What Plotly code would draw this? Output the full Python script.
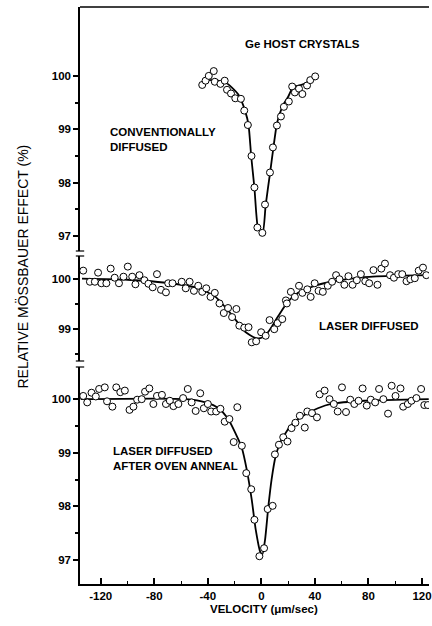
import plotly.graph_objects as go

# ---------------- data ----------------
x_ticks = [-120, -80, -40, 0, 40, 80, 120]
x_ticklabels = ["-120", "-80", "-40", "0", "40", "80", "120"]

# Top panel: conventionally diffused
top_v = [-44.2, -41.7, -39.3, -35.6, -34.8, -30.6, -27.4, -25.7, -22.7, -19.5, -15.3, -12.8,
         -10.1, -7.4, -5.2, -3.0, 0.7, 2.7, 6.4, 8.6, 11.6, 14.6, 16.8, 20.5, 23.0, 25.0,
         28.1, 30.6, 34.1, 36.5, 40.2]
top_y = [99.83, 99.91, 100.00, 100.09, 99.89, 99.85, 99.91, 99.74, 99.67, 99.58, 99.57, 99.35,
         99.08, 98.50, 97.91, 97.16, 97.06, 97.59, 98.19, 98.66, 99.07, 99.24, 99.42, 99.52,
         99.80, 99.69, 99.76, 99.66, 99.82, 99.92, 99.99]
top_fit_v = [-43, -36, -30, -27, -22, -17, -12, -9.6, -7.6, -5.2, -2.7, -1, 1, 3.2, 6.4, 8.9,
             11.4, 13.8, 17, 20, 23.7, 29.9, 34.8, 39.8]
top_fit_y = [99.93, 99.92, 99.90, 99.88, 99.78, 99.64, 99.33, 99.08, 98.49, 97.90, 97.17, 97.10,
             97.07, 97.58, 98.17, 98.64, 99.08, 99.30, 99.49, 99.61, 99.79, 99.83, 99.89, 100.0]

# Middle panel: laser diffused
mid_v = [-133.1, -128.1, -124.4, -122.0, -119.5, -115.8, -112.6, -109.6, -106.4, -103.0, -99.8,
         -96.5, -94.1, -91.1, -87.4, -84.4, -81.2, -78.0, -75.0, -71.3, -69.6, -66.4, -59.5,
         -56.5, -53.6, -50.4, -47.2, -44.2, -41.2, -38.0, -34.8, -31.3, -28.1, -24.9, -21.9,
         -18.7, -16.5, -12.8, -9.6, -7.2, -3.9, -0.2, 3.2, 6.1, 9.6, 12.1, 15.6, 18.3, 19.0,
         22.0, 25.0, 28.1, 30.6, 34.3, 36.8, 39.8, 42.7, 45.9, 49.6, 52.8, 55.8, 58.3, 62.0,
         65.0, 68.1, 71.3, 74.3, 77.6, 80.5, 83.7, 86.7, 89.6, 92.3, 96.1, 99.0, 102.2, 105.2,
         108.4, 111.3, 114.6, 117.5, 120.7, 123.2]
mid_y = [100.16, 99.94, 99.94, 100.12, 99.91, 99.91, 100.20, 100.02, 99.91, 100.04, 100.24,
         100.04, 99.89, 100.07, 99.97, 99.90, 99.83, 100.09, 99.78, 99.73, 99.91, 99.91, 99.94,
         99.81, 99.94, 99.76, 99.86, 99.74, 99.81, 99.64, 99.72, 99.51, 99.32, 99.42, 99.24,
         99.40, 99.07, 99.03, 99.04, 98.74, 98.76, 98.94, 98.87, 99.18, 99.00, 99.12, 99.20,
         99.57, 99.51, 99.74, 99.64, 99.86, 99.72, 99.79, 99.64, 99.91, 99.76, 99.74, 99.86,
         99.94, 100.07, 99.99, 99.88, 100.05, 99.88, 99.97, 100.09, 99.95, 99.91, 100.17, 99.88,
         100.20, 100.30, 100.07, 100.02, 100.09, 100.09, 99.95, 99.99, 100.01, 100.16, 100.22,
         100.07]
mid_fit_v = [-134, -100, -71.3, -46.7, -34.3, -22, -12.1, -4.7, 0.2, 5.2, 12.6, 20, 27.4, 39.8,
             52.1, 76.8, 101.5, 125]
mid_fit_y = [100.0, 99.98, 99.92, 99.81, 99.64, 99.28, 98.95, 98.83, 98.83, 98.95, 99.26, 99.55,
             99.72, 99.86, 99.94, 100.03, 100.06, 100.07]

# Bottom panel: laser diffused after oven anneal
bot_v = [-133.1, -130.1, -126.9, -123.7, -121.2, -117.0, -115.3, -111.3, -108.4, -105.4, -102.0,
         -98.5, -95.6, -92.8, -89.4, -86.9, -83.7, -80.7, -78.0, -74.3, -71.3, -68.4, -65.7,
         -62.0, -58.5, -55.0, -52.1, -49.1, -45.7, -43.0, -40.0, -37.5, -33.8, -30.6, -27.4,
         -23.9, -20.7, -18.0, -14.6, -11.3, -7.6, -5.2, -1.5, 2.0, 4.7, 8.4, 10.1, 13.1, 16.3,
         19.5, 22.5, 25.4, 28.7, 32.4, 34.3, 37.8, 41.5, 43.5, 47.2, 50.9, 54.1, 57.0, 60.2,
         63.2, 66.4, 69.4, 72.6, 75.6, 78.7, 81.7, 85.0, 87.9, 91.1, 94.6, 97.3, 100.2, 103.9,
         105.9, 109.4, 112.1, 115.8, 119.3, 121.7, 124.4]
bot_y = [100.06, 99.94, 100.12, 100.05, 100.19, 100.22, 99.96, 99.86, 100.22, 100.13, 100.16,
         99.80, 99.86, 99.99, 100.00, 100.14, 100.20, 99.91, 100.06, 100.08, 99.91, 99.97, 99.87,
         99.91, 100.02, 100.19, 99.94, 99.78, 100.11, 99.83, 99.91, 99.77, 99.77, 99.82, 99.58,
         99.63, 99.20, 99.85, 99.13, 98.62, 98.32, 97.75, 97.07, 97.22, 97.95, 98.01, 98.97,
         99.15, 99.29, 99.21, 99.46, 99.56, 99.69, 99.47, 99.77, 99.74, 99.66, 100.09, 100.16,
         100.00, 99.91, 99.77, 100.22, 99.76, 99.99, 99.91, 99.97, 100.20, 99.88, 99.99, 99.94,
         100.19, 100.00, 99.73, 100.25, 100.06, 100.20, 99.86, 99.91, 99.97, 100.02, 100.19,
         99.89, 99.89]
bot_fit_v = [-135, -56.5, -41.7, -31.9, -24.4, -19.5, -14.6, -10.9, -7.2, -4.2, -1, 0.7, 2.7,
             5.2, 7.6, 10.6, 15, 22.4, 32.4, 42.2, 52.1, 76.8, 125]
bot_fit_y = [100.0, 100.0, 99.94, 99.83, 99.61, 99.37, 99.09, 98.68, 98.12, 97.56, 97.16, 97.10,
             97.37, 98.0, 98.5, 98.93, 99.24, 99.52, 99.71, 99.83, 99.91, 99.97, 100.0]

# ---------------- figure ----------------
FONT_B = "Liberation Sans, Arial, sans-serif"
FONT_R = "Liberation Sans, Arial, sans-serif"

fig = go.Figure()

panels = [
    (top_fit_v, top_fit_y, top_v, top_y, "x3", "y3"),
    (mid_fit_v, mid_fit_y, mid_v, mid_y, "x2", "y2"),
    (bot_fit_v, bot_fit_y, bot_v, bot_y, "x", "y"),
]
for fv, fy, pv, py, xa, ya in panels:
    fig.add_trace(go.Scatter(x=fv, y=fy, mode="lines", xaxis=xa, yaxis=ya,
                             line=dict(color="black", width=1.8, shape="spline", smoothing=0.6),
                             hoverinfo="skip"))
    fig.add_trace(go.Scatter(x=pv, y=py, mode="markers", xaxis=xa, yaxis=ya,
                             marker=dict(symbol="circle", size=7, color="white",
                                         line=dict(color="black", width=1))))

H = 577.0
def frac(py):
    return (584 - py) / H

tick_font = dict(family=FONT_B, size=11.5, color="black", weight="bold")
common_y = dict(showline=True, linecolor="black", linewidth=1.5, ticks="outside", ticklen=5,
                tickwidth=1.5, tickcolor="black", showgrid=False, zeroline=False,
                tickfont=tick_font)

x_range = [-135.5, 125.2]
fig.update_layout(
    width=432, height=626,
    margin=dict(l=80, r=0, t=7, b=42),
    plot_bgcolor="white", paper_bgcolor="white",
    showlegend=False,
    xaxis=dict(domain=[0, 1], range=x_range, anchor="y", showline=True, linecolor="black",
               linewidth=1.5, ticks="inside", ticklen=6, tickwidth=1.5, tickcolor="black",
               tickvals=x_ticks, ticktext=x_ticklabels, showgrid=False, zeroline=False,
               ticklabeloverflow="allow",
               minor=dict(tickvals=[-100, -60, -20, 20, 60, 100], ticks="inside", ticklen=3,
                          tickwidth=1, tickcolor="black"),
               tickfont=tick_font),
    xaxis2=dict(matches="x", anchor="y2", visible=False, range=x_range),
    xaxis3=dict(matches="x", anchor="y3", visible=False, range=x_range),
    yaxis=dict(domain=[0, frac(367)], range=[96.552, 100.6], anchor="x",
               tickvals=[97, 98, 99, 100],
               minor=dict(tickvals=[97.5, 98.5, 99.5], ticks="outside", ticklen=3,
                          tickcolor="black"), **common_y),
    yaxis2=dict(domain=[frac(361), frac(256)], range=[98.37, 100.45], anchor="x2",
                tickvals=[99, 100],
                minor=dict(tickvals=[98.5, 99.5], ticks="outside", ticklen=3,
                           tickcolor="black"), **common_y),
    yaxis3=dict(domain=[frac(251), 1], range=[96.72, 101.29], anchor="x3",
                tickvals=[97, 98, 99, 100],
                minor=dict(tickvals=[97.5, 98.5, 99.5], ticks="outside", ticklen=3,
                           tickcolor="black"), **common_y),
)

# top frame line
fig.add_shape(type="line", xref="paper", yref="paper", x0=0, x1=1, y0=1, y1=1,
              line=dict(color="black", width=1.5))
# axis break markers
for yb in [frac(251), frac(256), frac(361), frac(367)]:
    fig.add_shape(type="line", xref="paper", yref="paper", x0=-0.012, x1=0.012, y0=yb, y1=yb,
                  line=dict(color="black", width=1.2))

lab = dict(family=FONT_B, size=11.5, color="black", weight="bold")
fig.add_annotation(x=30.4, y=100.6, xref="x3", yref="y3", text="Ge HOST CRYSTALS",
                   showarrow=False, font=lab, xanchor="center", yanchor="middle")
fig.add_annotation(x=-114.5, y=98.8, xref="x3", yref="y3", text="CONVENTIONALLY<br>DIFFUSED",
                   showarrow=False, font=lab, xanchor="left", yanchor="middle", align="left")
fig.add_annotation(x=80.7, y=99.07, xref="x2", yref="y2", text="LASER DIFFUSED",
                   showarrow=False, font=lab, xanchor="center", yanchor="middle")
fig.add_annotation(x=-112, y=98.9, xref="x", yref="y", text="LASER DIFFUSED<br>AFTER OVEN ANNEAL",
                   showarrow=False, font=lab, xanchor="left", yanchor="middle", align="left")
fig.add_annotation(x=2, y=frac(609), xref="x", yref="paper", text="VELOCITY (μm/sec)",
                   showarrow=False, font=lab, xanchor="center", yanchor="middle")
fig.add_annotation(x=(22 - 80) / 352.0, y=frac(266), xref="paper", yref="paper",
                   text="RELATIVE MÖSSBAUER EFFECT (%)", textangle=-90, showarrow=False,
                   xanchor="center", yanchor="middle",
                   font=dict(family=FONT_R, size=14, color="black"))

fig.write_html("out.html")
